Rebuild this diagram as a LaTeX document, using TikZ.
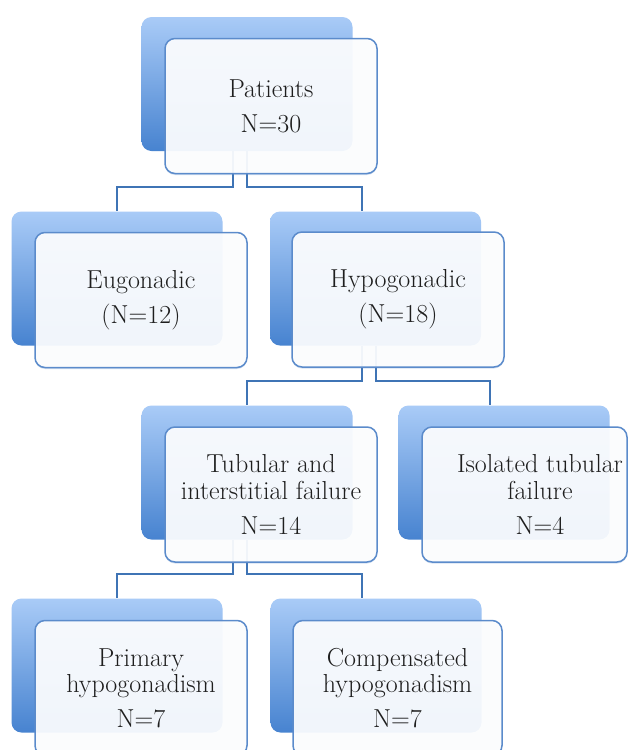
\documentclass[tikz,border=0pt]{standalone}
\usepackage{fontspec}
\usetikzlibrary{shadows}
\definecolor{backtop}{HTML}{A9CBF7}
\definecolor{backbot}{HTML}{4783D0}
\definecolor{frontfill}{HTML}{FFFFFF}
\definecolor{frontdraw}{HTML}{5B8BCB}
\definecolor{connc}{HTML}{3F74B5}
\definecolor{txtc}{HTML}{1E1E1E}
\tikzset{
  backbox/.style={rounded corners=10pt, minimum width=211pt, minimum height=134pt,
    inner sep=0pt, top color=backtop, bottom color=backbot, draw=none},
  frontbox/.style={rounded corners=10pt, minimum width=212pt, minimum height=135pt,
    inner sep=0pt, fill=frontfill, fill opacity=0.92, text opacity=1, draw=frontdraw,
    line width=1.5pt, align=center, text=txtc,
    drop shadow={shadow xshift=0pt, shadow yshift=-1.5pt, opacity=0.25, fill=frontdraw},
    font=\fontsize{26}{27}\selectfont},
  txtnode/.style={align=center, text=txtc, inner sep=0pt,
    font=\fontsize{26}{27}\selectfont},
  conn/.style={draw=connc, line width=2pt}
}
\begin{document}
\begin{tikzpicture}[x=1pt,y=-1pt]
\clip (0,0) rectangle (628,750);
\fill[white] (0,0) rectangle (628,750);
% back boxes
\node[backbox] (Pb) at (247,84) {};
\node[backbox] (Eb) at (117,278.5) {};
\node[backbox] (Hb) at (375.5,278.5) {};
\node[backbox] (Tb) at (247,472.5) {};
\node[backbox] (Ib) at (504,472.5) {};
\node[backbox] (Rb) at (117,665.5) {};
\node[backbox] (Cb) at (376,665.5) {};
% connectors
\draw[conn] ([xshift=-14pt]Pb.south) -- ++(0,36) -| (Eb.north);
\draw[conn] (Pb.south) -- ++(0,36) -| ([xshift=-14pt]Hb.north);
\draw[conn] ([xshift=-14pt]Hb.south) -- ++(0,35) -| (Tb.north);
\draw[conn] (Hb.south) -- ++(0,35) -| ([xshift=-14pt]Ib.north);
\draw[conn] ([xshift=-14pt]Tb.south) -- ++(0,34) -| (Rb.north);
\draw[conn] (Tb.south) -- ++(0,34) -| ([xshift=-14pt]Cb.north);
% front boxes
\node[frontbox] (P) at (271,106) {Patients\\[8pt]N=30};
\node[frontbox] (E) at (141,300) {Eugonadic\\[8pt](N=12)};
\node[frontbox] (H) at (398,299.5) {Hypogonadic\\[8pt](N=18)};
\node[frontbox] (T) at (271,494.5) {Tubular and\\interstitial failure\\[8pt]N=14};
\node[frontbox, minimum width=205pt] (I) at (524.5,494.5) {};
\node[txtnode] (It) at (540,494.5) {Isolated tubular\\failure\\[8pt]N=4};
\node[frontbox] (R) at (141,688) {Primary\\[-1pt]hypogonadism\\[8pt]N=7};
\node[frontbox, minimum width=209pt] (C) at (397.5,688) {Compensated\\[-1pt]hypogonadism\\[8pt]N=7};
\end{tikzpicture}
\end{document}
